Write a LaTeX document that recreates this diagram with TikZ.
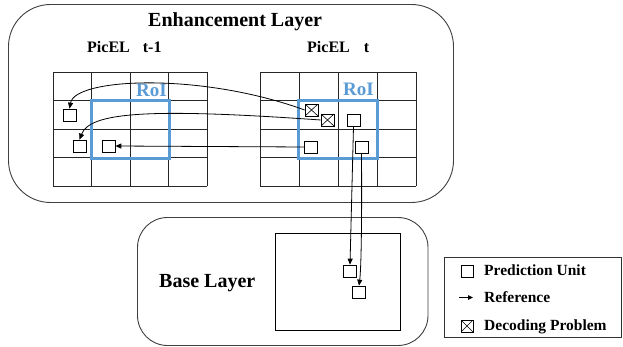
\documentclass[tikz,border=0pt]{standalone}
\usepackage{fontspec}
\setmainfont{Liberation Serif}
\usetikzlibrary{arrows.meta}
\definecolor{roiblue}{HTML}{5B9BD5}
\begin{document}
\begin{tikzpicture}[x=1pt,y=-1pt,
  layerbox/.style={draw=black!75, line width=0.9pt},
  gridline/.style={draw=black!85, line width=0.8pt},
  roi/.style={draw=roiblue, line width=3pt},
  pu/.style={draw=black, line width=0.7pt, fill=white, minimum width=13pt,
    minimum height=12pt, inner sep=0pt},
  bad/.style={pu, path picture={
    \draw[line width=0.6pt]
      (path picture bounding box.north west) -- (path picture bounding box.south east)
      (path picture bounding box.north east) -- (path picture bounding box.south west);}},
  ref/.style={-{Triangle[length=6pt,width=5pt]}, line width=0.8pt},
  lbl/.style={font=\bfseries, inner sep=0pt, anchor=base west},
  roitext/.style={font=\bfseries\fontsize{19}{22}\selectfont, text=roiblue,
    inner sep=0pt, anchor=base east},
]
% canvas
\fill[white] (0,0) rectangle (623,347);
\useasboundingbox (0,0) rectangle (623,347);

% layer frames
\draw[layerbox, rounded corners=42pt] (8.5,4.5) rectangle (453.5,202.5);
\draw[layerbox, rounded corners=30pt] (137.5,217.5) rectangle (428,345.5);

\node[lbl, font=\bfseries\fontsize{20}{24}\selectfont] (enh) at (148,27) {Enhancement Layer};
\node[lbl, font=\bfseries\fontsize{20}{24}\selectfont] (base) at (159,287) {Base Layer};

% picture labels
\node[lbl, font=\bfseries\fontsize{16}{19}\selectfont] (picprev) at (87,53) {PicEL\hspace{13pt}t-1};
\node[lbl, font=\bfseries\fontsize{16}{19}\selectfont] (piccur) at (307,53) {PicEL\hspace{14pt}t};

% block grids of both pictures
\foreach \i in {0,...,4} {
  \draw[gridline] ({53+38.5*\i},72) -- ({53+38.5*\i},186);
  \draw[gridline] (53,{72+28.5*\i}) -- (207,{72+28.5*\i});
  \draw[gridline] ({260+39*\i},72) -- ({260+39*\i},186);
  \draw[gridline] (260,{72+28.5*\i}) -- (416,{72+28.5*\i});
}

% regions of interest
\draw[roi] (91.5,100.5) rectangle (169.5,158.5);
\draw[roi] (298.5,100.5) rectangle (377,158.5);
\node[roitext] (roiprev) at (167,97) {RoI};
\node[roitext] (roicur) at (374,96) {RoI};

% prediction units in PicEL t-1
\node[pu] (p1) at (69.5,115) {};
\node[pu] (p2) at (79.5,146) {};
\node[pu] (p3) at (108.5,146) {};

% prediction units in PicEL t
\node[bad] (a) at (311.5,110) {};
\node[bad] (b) at (327.5,120) {};
\node[pu] (c) at (353.5,120) {};
\node[pu] (d) at (311,147) {};
\node[pu] (e) at (361.5,147) {};

% base layer picture and its units
\draw[line width=0.8pt] (275,233) rectangle (400,330);
\node[pu] (f) at (350,271) {};
\node[pu] (g) at (359,292) {};

% references
\draw[ref] (a.west) .. controls (200,72) and (75,78) .. (p1.north);
\draw[ref] (b.west) .. controls (150,108) and (90,112) .. (p2.north);
\draw[ref] (d.west) -- (p3.east);
\draw[ref] (c.south) -- (f.north);
\draw[ref] (e.south) .. controls (362,230) and (361,270) .. (g.north);

% legend
\draw[line width=0.8pt, draw=black!80] (444,257) rectangle (621.5,337);
\node[pu, minimum width=12pt] (lpu) at (467,271.5) {};
\node[lbl, font=\bfseries\fontsize{15.5}{18}\selectfont] (lputxt) at (484,275.5) {Prediction Unit};
\coordinate (la) at (459,297.5);
\coordinate (lb) at (473,297.5);
\draw[ref, -{Triangle[length=5pt,width=4.5pt]}] (la) -- (lb);
\node[lbl, font=\bfseries\fontsize{15.5}{18}\selectfont] (lreftxt) at (484,302.5) {Reference};
\node[bad, minimum width=12pt] (lbad) at (467,326) {};
\node[lbl, font=\bfseries\fontsize{15.5}{18}\selectfont] (lbadtxt) at (484,330) {Decoding Problem};
\end{tikzpicture}
\end{document}
